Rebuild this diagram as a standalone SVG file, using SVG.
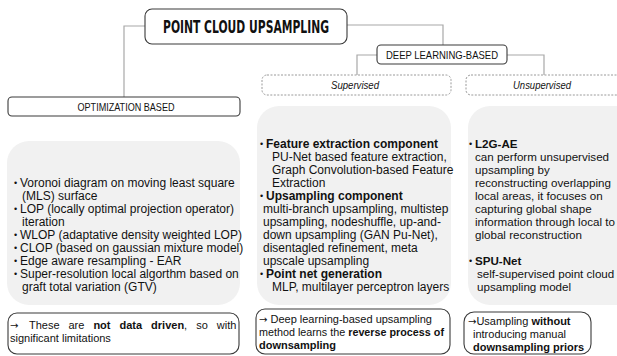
<svg xmlns="http://www.w3.org/2000/svg" width="617" height="356" viewBox="0 0 617 356">
<style>
.bx{fill:#fff;stroke:#3a3a3a;stroke-width:1.1}
.dash{fill:#fff;stroke:#9a9a9a;stroke-width:1;stroke-dasharray:2 1.5}
.gray{fill:#f1f1f1;stroke:none}
.con{fill:none;stroke:#a8a8a8;stroke-width:1.2}
.t{font-family:"Liberation Sans",Arial,sans-serif;font-size:12px;fill:#111}
.r{font-size:11.6px}
.n{font-family:"Liberation Sans",Arial,sans-serif;font-size:11px;fill:#111}
.ar{font-family:"DejaVu Sans",sans-serif;font-size:10px}
.b{font-weight:bold}
.lbl{font-family:"Liberation Sans",Arial,sans-serif;font-size:10.5px;fill:#111;text-anchor:middle}
.it{font-style:italic}
.title{font-family:"DejaVu Sans","Liberation Sans",sans-serif;font-weight:bold;font-size:17px;fill:#111;text-anchor:middle}
.bul{font-family:"Liberation Sans",Arial,sans-serif;font-size:9px;fill:#111}
</style>
<g id="connectors">
<path class="con" d="M145,26 H124 V97"/>
<path class="con" d="M347,25 H443 V45"/>
<path class="con" d="M377,55 H357 V75"/>
<path class="con" d="M507,55 H544 V75"/>
</g>
<g id="title">
<rect class="bx" x="145" y="9" width="202" height="35" rx="7"/>
<text class="title" x="246" y="33" textLength="166" lengthAdjust="spacingAndGlyphs">POINT CLOUD UPSAMPLING</text>
</g>
<g id="deep">
<rect class="bx" x="377" y="45" width="130" height="19" rx="4"/>
<text class="lbl" x="442" y="58.5" textLength="112" lengthAdjust="spacingAndGlyphs">DEEP LEARNING-BASED</text>
</g>
<g id="optimization">
<rect class="bx" x="8" y="97" width="232" height="19" rx="4"/>
<text class="lbl" x="126" y="110.5" textLength="97" lengthAdjust="spacingAndGlyphs">OPTIMIZATION BASED</text>
</g>
<g id="supervised">
<rect class="dash" x="262" y="75" width="189" height="20" rx="5"/>
<text class="lbl it" x="355" y="89" textLength="48" lengthAdjust="spacingAndGlyphs">Supervised</text>
</g>
<g id="unsupervised">
<rect class="dash" x="466" y="75" width="170" height="20" rx="5"/>
<text class="lbl it" x="542" y="89" textLength="58" lengthAdjust="spacingAndGlyphs">Unsupervised</text>
</g>
<g id="opt-methods">
<rect class="gray" x="7" y="141" width="233" height="164" rx="22"/>
<text class="bul" x="14" y="186">•</text><text class="t" x="20" y="187">Voronoi diagram on moving least square</text>
<text class="t" x="22" y="200">(MLS) surface</text>
<text class="bul" x="14" y="212">•</text><text class="t" x="20" y="213">LOP (locally optimal projection operator)</text>
<text class="t" x="22" y="226">iteration</text>
<text class="bul" x="14" y="238">•</text><text class="t" x="20" y="239">WLOP (adaptative density weighted LOP)</text>
<text class="bul" x="14" y="251">•</text><text class="t" x="20" y="252">CLOP (based on gaussian mixture model)</text>
<text class="bul" x="14" y="264">•</text><text class="t" x="20" y="265">Edge aware resampling  - EAR</text>
<text class="bul" x="14" y="277">•</text><text class="t" x="20" y="278">Super-resolution local algorthm based on</text>
<text class="t" x="22" y="291">graft total variation (GTV)</text>
</g>
<g id="sup-methods">
<rect class="gray" x="257" y="106" width="194" height="199" rx="22"/>
<text class="bul" x="260" y="147">•</text><text class="t b" x="266" y="148">Feature extraction component</text>
<text class="t" x="272" y="161">PU-Net based feature extraction,</text>
<text class="t" x="272" y="174">Graph Convolution-based  Feature</text>
<text class="t" x="272" y="187">Extraction</text>
<text class="bul" x="260" y="199">•</text><text class="t b" x="266" y="200">Upsampling component</text>
<text class="t" x="263" y="213">multi-branch upsampling, multistep</text>
<text class="t" x="263" y="226">upsampling, nodeshuffle, up-and-</text>
<text class="t" x="263" y="239">down upsampling (GAN Pu-Net),</text>
<text class="t" x="263" y="252">disentagled refinement, meta</text>
<text class="t" x="263" y="265">upscale upsampling</text>
<text class="bul" x="260" y="277">•</text><text class="t b" x="266" y="278">Point net generation</text>
<text class="t" x="272" y="291">MLP, multilayer  perceptron layers</text>
</g>
<g id="unsup-methods">
<rect class="gray" x="468" y="106" width="170" height="199" rx="22"/>
<text class="bul" x="469" y="147">•</text><text class="t r b" x="475" y="148">L2G-AE</text>
<text class="t r" x="475" y="161">can perform unsupervised</text>
<text class="t r" x="475" y="174">upsampling by</text>
<text class="t r" x="475" y="187">reconstructing overlapping</text>
<text class="t r" x="475" y="200">local areas, it focuses on</text>
<text class="t r" x="475" y="213">capturing global shape</text>
<text class="t r" x="475" y="226">information through local to</text>
<text class="t r" x="475" y="239">global reconstruction</text>
<text class="bul" x="469" y="264">•</text><text class="t r b" x="475" y="265">SPU-Net</text>
<text class="t r" x="477" y="278">self-supervised point cloud</text>
<text class="t r" x="477" y="291">upsampling model</text>
</g>
<g id="opt-note">
<rect class="bx" x="8" y="313" width="231" height="41" rx="9"/>
<text class="n" y="329"><tspan x="10" class="ar">→</tspan><tspan x="29">These</tspan><tspan x="68.5">are</tspan><tspan x="93.4" class="b">not</tspan><tspan x="119.5" class="b">data</tspan><tspan x="151.1" class="b">driven</tspan><tspan>,</tspan><tspan x="196.2">so</tspan><tspan x="216.8">with</tspan></text>
<text class="n" x="10" y="342">significant limitations</text>
</g>
<g id="sup-note">
<rect class="bx" x="256" y="309" width="194" height="45" rx="9"/>
<text class="n" x="259" y="323"><tspan class="ar">→</tspan> Deep learning-based upsampling</text>
<text class="n" x="259" y="336" textLength="185" lengthAdjust="spacingAndGlyphs">method learns the <tspan class="b">reverse process of</tspan></text>
<text class="n b" x="259" y="349">downsampling</text>
</g>
<g id="unsup-note">
<rect class="bx" x="464" y="312" width="127" height="42" rx="10"/>
<text class="n" x="468" y="325"><tspan class="ar">→</tspan>Usampling <tspan class="b">without</tspan></text>
<text class="n" x="473" y="338">introducing manual</text>
<text class="n b" x="473" y="351">downsampling priors</text>
</g>
</svg>
